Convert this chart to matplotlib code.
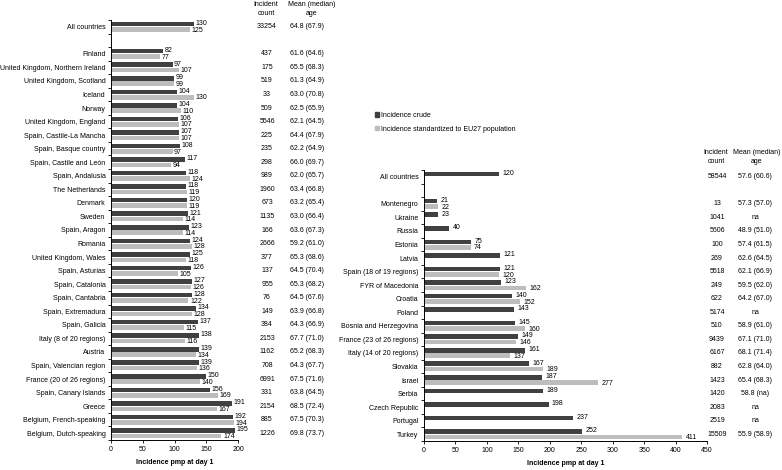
import numpy as np
import matplotlib.pyplot as plt
from matplotlib.patches import Patch

plt.rcParams['font.family'] = ['Liberation Sans', 'DejaVu Sans']

# left panel data
countries_l = ["All countries", "Finland", "United Kingdom, Northern Ireland", "United Kingdom, Scotland",
               "Iceland", "Norway", "United Kingdom, England", "Spain, Castile-La Mancha",
               "Spain, Basque country", "Spain, Castile and León", "Spain, Andalusia", "The Netherlands",
               "Denmark", "Sweden", "Spain, Aragon", "Romania", "United Kingdom, Wales", "Spain, Asturias",
               "Spain, Catalonia", "Spain, Cantabria", "Spain, Extremadura", "Spain, Galicia",
               "Italy (8 of 20 regions)", "Austria", "Spain, Valencian region", "France (20 of 26 regions)",
               "Spain, Canary Islands", "Greece", "Belgium, French-speaking", "Belgium, Dutch-speaking"]
crude_l = [130, 82, 97, 99, 104, 104, 106, 107, 108, 117, 118, 118, 120, 121, 123, 124, 125, 126,
           127, 128, 134, 137, 138, 139, 139, 150, 156, 191, 192, 195]
std_l = [125, 77, 107, 99, 130, 110, 107, 107, 97, 94, 124, 119, 119, 114, 114, 128, 118, 105,
         126, 122, 128, 115, 116, 134, 136, 140, 169, 167, 194, 174]
count_l = [33254, 437, 175, 519, 33, 509, 5546, 225, 235, 298, 989, 1960, 673, 1135, 166, 2666, 377,
           137, 955, 76, 149, 384, 2153, 1162, 708, 6991, 331, 2154, 885, 1226]
age_l = ["64.8 (67.9)", "61.6 (64.6)", "65.5 (68.3)", "61.3 (64.9)", "63.0 (70.8)", "62.5 (65.9)",
         "62.1 (64.5)", "64.4 (67.9)", "62.2 (64.9)", "66.0 (69.7)", "62.0 (65.7)", "63.4 (66.8)",
         "63.2 (65.4)", "63.0 (66.4)", "63.6 (67.3)", "59.2 (61.0)", "65.3 (68.6)", "64.5 (70.4)",
         "65.3 (68.2)", "64.5 (67.6)", "63.9 (66.8)", "64.3 (66.9)", "67.7 (71.0)", "65.2 (68.3)",
         "64.3 (67.7)", "67.5 (71.6)", "63.8 (64.5)", "68.5 (72.4)", "67.5 (70.3)", "69.8 (73.7)"]

# right panel data
countries_r = ["All countries", "Montenegro", "Ukraine", "Russia", "Estonia", "Latvia",
               "Spain (18 of 19 regions)", "FYR of Macedonia", "Croatia", "Poland",
               "Bosnia and Herzegovina", "France (23 of 26 regions)", "Italy (14 of 20 regions)",
               "Slovakia", "Israel", "Serbia", "Czech Republic", "Portugal", "Turkey"]
crude_r = [120, 21, 23, 40, 75, 121, 121, 123, 140, 143, 145, 149, 161, 167, 187, 189, 198, 237, 252]
std_r = [None, 22, None, None, 74, None, 120, 162, 152, None, 160, 146, 137, 189, 277, None, None, None, 411]
count_r = [58544, 13, 1041, 5606, 100, 269, 5518, 249, 622, 5174, 510, 9439, 6167, 882, 1423, 1420,
           2083, 2519, 15509]
age_r = ["57.6 (60.6)", "57.3 (57.0)", "na", "48.9 (51.0)", "57.4 (61.5)", "62.6 (64.5)", "62.1 (66.9)",
         "59.5 (62.0)", "64.2 (67.0)", "na", "58.9 (61.0)", "67.1 (71.0)", "68.1 (71.4)", "62.8 (64.0)",
         "65.4 (68.3)", "58.8 (na)", "na", "na", "55.9 (58.9)"]

DARK = '#404040'
LIGHT = '#bdbdbd'
FS = 5.0
W, H = 782, 470

fig = plt.figure(figsize=(7.82, 4.70), dpi=100)


def px_axes(x0, x1, y0, y1):
    return fig.add_axes([x0 / W, 1 - y1 / H, (x1 - x0) / W, (y1 - y0) / H])


def panel(ax, names, crude, std, xmax, xticks, counts, ages, cx_count, cx_age):
    pos = np.array([0] + list(range(2, len(names) + 1)))
    off, bh = 0.2, 0.34
    ax.barh(pos - off, crude, height=bh, color=DARK)
    for p, v in zip(pos, crude):
        ax.text(v + xmax * 0.012, p - off - 0.05, str(v), fontsize=FS, va='center', ha='left')
    for p, v in zip(pos, std):
        if v is None:
            continue
        ax.barh(p + off, v, height=bh, color=LIGHT)
        ax.text(v + xmax * 0.012, p + off + 0.05, str(v), fontsize=FS, va='center', ha='left')
    n = pos[-1]
    ax.set_ylim(n + 0.5, -0.5)
    ax.set_xlim(0, xmax)
    ax.set_yticks(pos)
    ax.set_yticklabels(names, fontsize=FS)
    ax.set_yticks(np.arange(-0.5, n + 1, 1), minor=True)
    ax.tick_params(axis='y', which='major', length=0, pad=4)
    ax.tick_params(axis='y', which='minor', length=2.5, width=0.6)
    ax.set_xticks(xticks)
    ax.tick_params(axis='x', labelsize=FS, length=2.5, width=0.6, pad=2)
    ax.set_xlabel("Incidence pmp at day 1", fontsize=FS, fontweight='bold', labelpad=4)
    for s in ['top', 'right']:
        ax.spines[s].set_visible(False)
    for s in ['left', 'bottom']:
        ax.spines[s].set_linewidth(0.7)
    # side table
    tr = ax.get_yaxis_transform()
    for p, c, a in zip(pos, counts, ages):
        ax.text(cx_count, p, str(c), fontsize=FS, ha='center', va='center', transform=tr, clip_on=False)
        ax.text(cx_age, p, a, fontsize=FS, ha='center', va='center', transform=tr, clip_on=False)
    return pos


ax1 = px_axes(111, 238, 20, 440)
panel(ax1, countries_l, crude_l, std_l, 200, [0, 50, 100, 150, 200], count_l, age_l,
      (267 - 111) / (238 - 111), (307 - 111) / (238 - 111))
fig.text(266 / W, 1 - 9 / H, "Incident\ncount", fontsize=FS, ha='center', va='center', linespacing=1.3)
fig.text(312 / W, 1 - 9 / H, "Mean (median)\nage", fontsize=FS, ha='center', va='center', linespacing=1.3)

ax2 = px_axes(424, 707, 170, 441)
panel(ax2, countries_r, crude_r, std_r, 450, list(range(0, 451, 50)), count_r, age_r,
      (717 - 424) / (707 - 424), (755 - 424) / (707 - 424))
fig.text(716 / W, 1 - 157 / H, "Incident\ncount", fontsize=FS, ha='center', va='center', linespacing=1.3)
fig.text(757 / W, 1 - 157 / H, "Mean (median)\nage", fontsize=FS, ha='center', va='center', linespacing=1.3)

handles = [Patch(color=DARK), Patch(color=LIGHT)]
fig.legend(handles, ["Incidence crude", "Incidence standardized to EU27 population"],
           loc='upper left', bbox_to_anchor=(372 / W, 1 - 109 / H), frameon=False, fontsize=FS,
           handlelength=0.6, handleheight=0.6, handletextpad=0.3, labelspacing=1.0, borderaxespad=0)

fig.savefig("out.png", dpi=100)
